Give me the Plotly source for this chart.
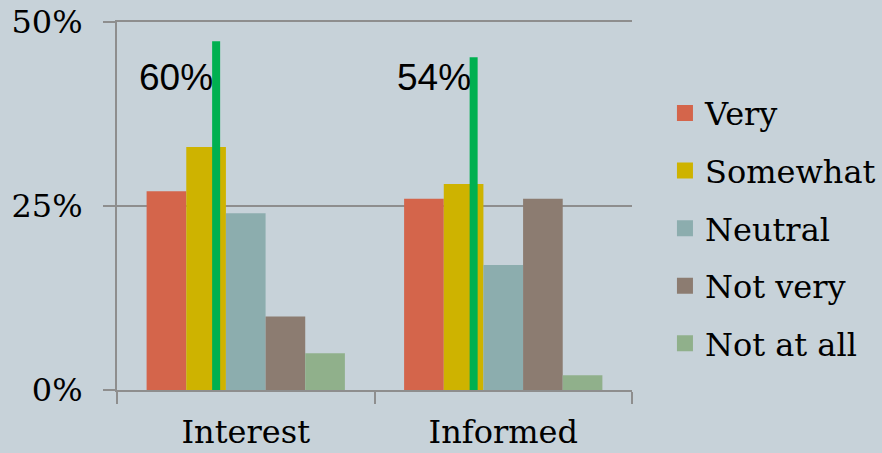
import plotly.graph_objects as go

# Survey results (%)
categories = ["Interest", "Informed"]
series_names = ["Very", "Somewhat", "Neutral", "Not very", "Not at all"]
very = [27, 26]
somewhat = [33, 28]
neutral = [24, 17]
not_very = [10, 26]
not_at_all = [5, 2]
series_values = [very, somewhat, neutral, not_very, not_at_all]
colors = ["#d4654b", "#ceb300", "#8cadae", "#8c7c71", "#90b08b"]

# Combined "Very + Somewhat" markers
marker_tops = [47.4, 45.2]
marker_offset = -0.115
label_y = 42.5

BG = "#c7d2d9"
AXIS = "#8e8e8e"
SERIF = "'DejaVu Serif', 'Liberation Serif', serif"

fig = go.Figure()

for name, vals, col in zip(series_names, series_values, colors):
    fig.add_trace(go.Bar(
        x=categories, y=vals, name=name,
        marker=dict(color=col, line=dict(width=0)),
        showlegend=False,
    ))
    # legend swatch
    fig.add_trace(go.Scatter(
        x=[None], y=[None], mode="markers", name=name,
        marker=dict(symbol="square", size=16, color=col),
        legendgroup=name,
    ))

for i, cat in enumerate(categories):
    total = very[i] + somewhat[i]
    fig.add_shape(
        type="line", xref="x", yref="y",
        x0=i + marker_offset, x1=i + marker_offset,
        y0=-0.4, y1=marker_tops[i],
        line=dict(color="#00b050", width=8), layer="above",
    )
    fig.add_annotation(
        x=i + marker_offset, y=label_y, xref="x", yref="y",
        text=f"{total}%", showarrow=False, xanchor="right", xshift=-1,
        font=dict(family="'Liberation Sans', Arial, sans-serif", size=37, color="#000000"),
    )

fig.update_layout(
    width=882, height=453,
    margin=dict(l=117, r=250, t=22, b=63, autoexpand=False),
    paper_bgcolor=BG, plot_bgcolor=BG,
    barmode="group", bargap=0.23, bargroupgap=0,
    font=dict(family=SERIF, size=32, color="#000000"),
    legend=dict(
        x=1.064, xanchor="left", y=0.827, yanchor="top",
        bgcolor="rgba(0,0,0,0)", tracegroupgap=13,
        font=dict(family=SERIF, size=32),
        itemclick=False,
    ),
    xaxis=dict(
        showline=True, linecolor=AXIS, linewidth=2, mirror=True,
        ticks="outside", tickson="boundaries", ticklen=12, tickwidth=2, tickcolor=AXIS,
        showgrid=False, ticklabelstandoff=13,
        tickfont=dict(family=SERIF, size=32),
    ),
    yaxis=dict(
        range=[0, 50], tickvals=[0, 25, 50], ticktext=["0%", "25%", "50%"],
        showline=True, linecolor=AXIS, linewidth=2,
        ticks="outside", ticklen=12, tickwidth=2, tickcolor=AXIS,
        showgrid=True, gridcolor=AXIS, gridwidth=2, zeroline=False,
        ticklabelstandoff=14,
        tickfont=dict(family=SERIF, size=32),
    ),
)

fig.write_html("out.html")
